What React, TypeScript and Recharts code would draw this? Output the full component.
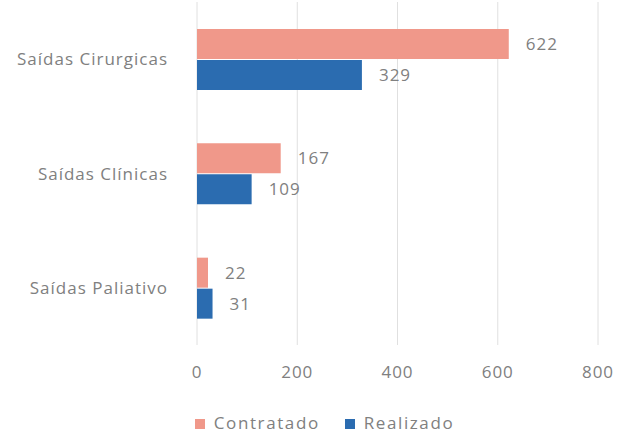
import React from "react";
import {
  BarChart,
  Bar,
  XAxis,
  YAxis,
  CartesianGrid,
  Legend,
  LabelList,
} from "recharts";

const categories = ["Saídas Cirurgicas", "Saídas Clínicas", "Saídas Paliativo"];
const contratado = [622, 167, 22];
const realizado = [329, 109, 31];
const xTicks = [0, 200, 400, 600, 800];

const data = categories.map((name, i) => ({
  name,
  contratado: contratado[i],
  realizado: realizado[i],
}));

const FONT = "'Open Sans', sans-serif";
const TEXT = "#808080";
const SPACING = 1;

const App: React.FC = () => {
  return (
    <div style={{ position: "absolute", left: 0, top: 0 }}>
      <BarChart
        width={635}
        height={439}
        data={data}
        layout="vertical"
        margin={{ top: 2, right: 37, left: 0, bottom: 5 }}
        barCategoryGap={27}
        barGap={1}
        style={{ fontFamily: FONT }}
      >
        <CartesianGrid horizontal={false} stroke="#e0e0e0" />
        <XAxis
          type="number"
          domain={[0, 800]}
          ticks={xTicks}
          axisLine={false}
          tickLine={false}
          tickSize={0}
          tickMargin={21}
          height={66}
          tick={{ fill: TEXT, fontSize: 17, letterSpacing: SPACING }}
        />
        <YAxis
          type="category"
          dataKey="name"
          width={197}
          axisLine={false}
          tickLine={false}
          tickSize={0}
          tickMargin={29}
          tick={{ fill: TEXT, fontSize: 17, letterSpacing: SPACING }}
        />
        <Legend
          verticalAlign="bottom"
          align="center"
          iconType="square"
          iconSize={10}
          wrapperStyle={{ left: 38, fontSize: 17, letterSpacing: 1.6, color: TEXT }}
          formatter={(value) => (
            <span style={{ color: TEXT, marginLeft: 5, marginRight: 15 }}>{value}</span>
          )}
        />
        <Bar
          dataKey="contratado"
          name="Contratado"
          fill="#F0988A"
          isAnimationActive={false}
        >
          <LabelList
            dataKey="contratado"
            position="right"
            offset={17}
            fill={TEXT}
            fontSize={17}
            letterSpacing={SPACING}
          />
        </Bar>
        <Bar
          dataKey="realizado"
          name="Realizado"
          fill="#2B6CB0"
          isAnimationActive={false}
        >
          <LabelList
            dataKey="realizado"
            position="right"
            offset={17}
            fill={TEXT}
            fontSize={17}
            letterSpacing={SPACING}
          />
        </Bar>
      </BarChart>
    </div>
  );
};

export default App;
